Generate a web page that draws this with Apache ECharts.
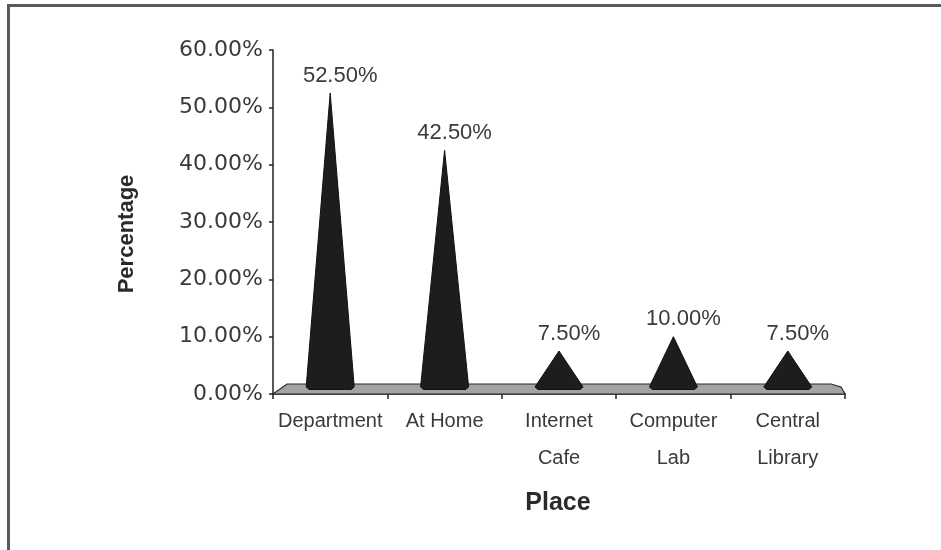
<!DOCTYPE html>
<html>
<head>
<meta charset="utf-8">
<script src="https://cdn.jsdelivr.net/npm/echarts@6/dist/echarts.min.js"></script>
<style>
  html, body { margin: 0; padding: 0; background: #ffffff; }
  #chart { width: 941px; height: 550px; }
</style>
</head>
<body>
<div id="chart"></div>
<script>
// Where students access the internet, share of respondents per place
const categories = ['Department', 'At Home', 'Internet\nCafe', 'Computer\nLab', 'Central\nLibrary'];
const shares = [52.5, 42.5, 7.5, 10, 7.5];
const yAxisMax = 60;
const yAxisStep = 10;

const textColor = '#3a3a3a';
const inkColor = '#1d1d1d';

const pct = v => Number(v).toFixed(2) + '%';

const chart = echarts.init(document.getElementById('chart'), null, { renderer: 'canvas' });

// Grey floor slab that the cones stand on
function renderFloor(params, api) {
  const cs = params.coordSys;
  const x0 = cs.x, x1 = cs.x + cs.width;
  const yb = cs.y + cs.height;
  const dx = 14, dy = 10;
  return {
    type: 'polygon',
    z2: 1,
    shape: { points: [[x0, yb], [x0 + dx, yb - dy], [x1 - dx, yb - dy], [x1 - 4, yb - dy + 3], [x1, yb]] },
    style: { fill: '#a3a3a3', stroke: '#2a2a2a', lineWidth: 1.2 }
  };
}

// One cone per place, apex at the share value
function renderCone(params, api) {
  const i = api.value(0);
  const v = api.value(1);
  const apex = api.coord([i, v]);
  const zero = api.coord([i, 0]);
  const half = api.size([1, 0])[0] * 0.21;
  const cx = apex[0];
  const by = zero[1] - 6;
  return {
    type: 'polygon',
    z2: 5,
    shape: {
      points: [
        [cx, apex[1]],
        [cx + half, by - 1],
        [cx + half - 3, by + 1.5],
        [cx - half + 3, by + 1.5],
        [cx - half, by - 1]
      ]
    },
    style: { fill: inkColor, stroke: '#111111', lineWidth: 1 },
    textContent: {
      style: {
        text: pct(v),
        fontFamily: '"Liberation Sans", Arial, sans-serif',
        fontSize: 22,
        fill: textColor
      }
    },
    textConfig: { position: 'top', distance: 6, offset: [10, 0] }
  };
}

const option = {
  backgroundColor: '#ffffff',
  animation: false,
  grid: { left: 273, right: 96, top: 50, bottom: 156 },
  xAxis: {
    type: 'category',
    data: categories,
    boundaryGap: true,
    axisLine: { lineStyle: { color: '#222222', width: 1.5 } },
    axisTick: { show: true, length: 5, lineStyle: { color: '#222222', width: 1.5 } },
    axisLabel: {
      interval: 0,
      margin: 9,
      lineHeight: 37,
      fontFamily: '"Liberation Sans", Arial, sans-serif',
      fontSize: 20,
      color: textColor
    },
    splitLine: { show: false }
  },
  yAxis: {
    type: 'value',
    min: 0,
    max: yAxisMax,
    interval: yAxisStep,
    axisLine: { show: true, lineStyle: { color: '#222222', width: 1.5 } },
    axisTick: { show: true, length: 4, lineStyle: { color: '#222222', width: 1.5 } },
    axisLabel: {
      margin: 10,
      fontFamily: '"DejaVu Sans", sans-serif',
      fontSize: 22,
      color: textColor,
      formatter: v => pct(v)
    },
    splitLine: { show: false }
  },
  series: [
    {
      type: 'custom',
      name: 'floor',
      renderItem: renderFloor,
      data: [[0, 0]],
      z: 1,
      silent: true
    },
    {
      type: 'custom',
      name: 'Percentage',
      renderItem: renderCone,
      data: shares.map((v, i) => [i, v]),
      encode: { x: 0, y: 1 },
      z: 3
    }
  ],
  graphic: [
    // frame edges
    { type: 'line', shape: { x1: 8.5, y1: 5, x2: 8.5, y2: 550 }, style: { stroke: '#5a5a5a', lineWidth: 3 } },
    { type: 'line', shape: { x1: 7, y1: 5.5, x2: 941, y2: 5.5 }, style: { stroke: '#5a5a5a', lineWidth: 3 } },
    // axis titles
    {
      type: 'text',
      x: 127, y: 234,
      rotation: Math.PI / 2,
      style: {
        text: 'Percentage',
        fontFamily: '"Liberation Sans", Arial, sans-serif',
        fontWeight: 'bold',
        fontSize: 22,
        fill: '#2a2a2a',
        align: 'center',
        verticalAlign: 'middle'
      }
    },
    {
      type: 'text',
      x: 558, y: 503,
      style: {
        text: 'Place',
        fontFamily: '"Liberation Sans", Arial, sans-serif',
        fontWeight: 'bold',
        fontSize: 25,
        fill: '#2a2a2a',
        align: 'center',
        verticalAlign: 'middle'
      }
    }
  ]
};

chart.setOption(option);
</script>
</body>
</html>
